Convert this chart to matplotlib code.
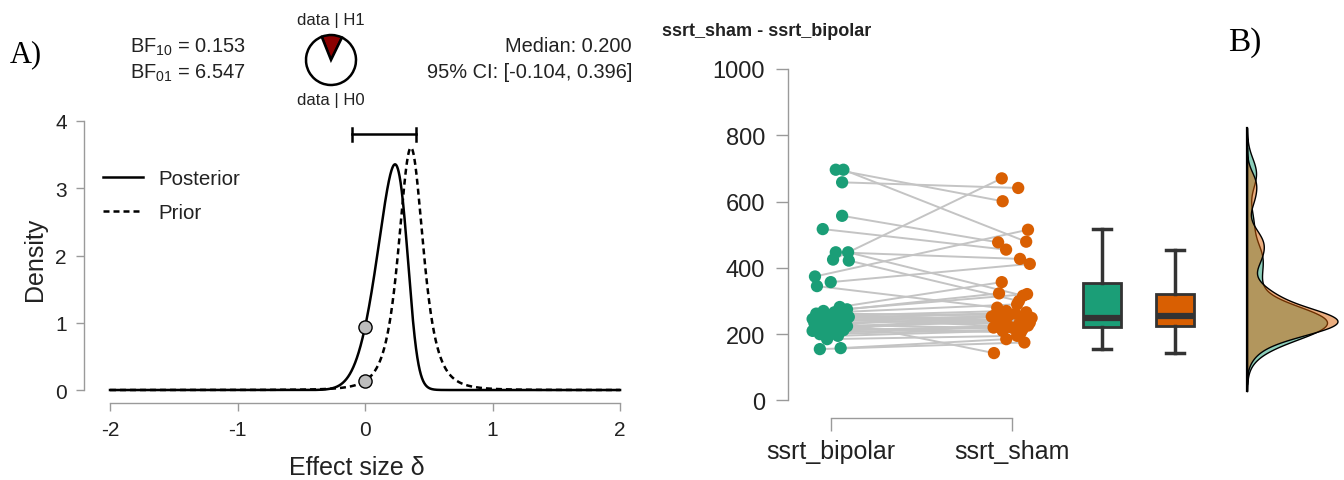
import math
import numpy as np
import matplotlib
matplotlib.use('Agg')
import matplotlib.pyplot as plt

plt.rcParams['font.family'] = ['Liberation Sans', 'DejaVu Sans']
plt.rcParams['mathtext.fontset'] = 'custom'
plt.rcParams['mathtext.rm'] = 'Liberation Sans'
plt.rcParams['mathtext.it'] = 'Liberation Sans:italic'

# ---------------- Panel A data (Bayesian paired t-test) ----------------
bf10 = 0.153
bf01 = 6.547
post_median = 0.200
ci_low, ci_high = -0.104, 0.396
prior_loc, prior_scale, prior_df = 0.36, 0.102, 3
lik_mean, lik_sd = 0.011, 0.145
x_ticks_a = [-2, -1, 0, 1, 2]
y_ticks_a = [0, 1, 2, 3, 4]
legend_labels = ['Posterior', 'Prior']

# ---------------- Panel B data (raincloud, paired) ----------------
conditions = ['ssrt_bipolar', 'ssrt_sham']
ssrt_bipolar = [696, 696, 658, 557, 517, 447, 447, 425, 422, 374, 357, 345,
                282, 275, 270, 266, 262, 258, 255, 252, 249, 247, 246, 244,
                242, 239, 236, 233, 230, 228, 224, 220, 218, 215, 212, 210,
                205, 200, 195, 185, 158, 155]
ssrt_sham = [601, 479, 641, 477, 455, 427, 316, 670, 300, 515, 412, 280,
             357, 323, 321, 290, 258, 240, 270, 235, 262, 224, 266, 253,
             230, 255, 143, 246, 252, 218, 249, 238, 205, 243, 226, 222,
             220, 215, 210, 195, 185, 175]
jitter_bipolar = [0.028, 0.070, 0.063, 0.063, -0.044, 0.028, 0.096, 0.013, 0.100, -0.087, 0.000, -0.076,
                  0.05, 0.09, -0.04, 0.02, -0.08, 0.07, -0.02, 0.10, -0.06, 0.04, -0.10, 0.01,
                  0.08, -0.05, 0.06, -0.09, 0.03, -0.01, 0.09, -0.07, 0.05, -0.03, 0.07, -0.10,
                  0.02, -0.06, 0.04, -0.02, 0.055, -0.06]
jitter_sham = [-0.050, 0.080, 0.036, -0.075, -0.031, 0.046, 0.063, -0.055, 0.040, 0.090, 0.100, -0.080,
               -0.055, -0.07, 0.085, 0.03, -0.09, 0.06, -0.03, 0.10, 0.02, -0.06, 0.08, -0.11,
               0.04, -0.02, -0.098, 0.07, -0.07, 0.01, 0.11, -0.04, 0.05, -0.08, 0.09, -0.01,
               -0.10, 0.06, -0.05, 0.03, -0.03, 0.07]
y_ticks_b = [0, 200, 400, 600, 800, 1000]
title_b = 'ssrt_sham - ssrt_bipolar'

GREEN = '#1b9e77'
ORANGE = '#d95f02'
AX_GRAY = '#9a9a9a'
TXT = '#222222'

W, H = 1344, 481
fig = plt.figure(figsize=(W / 100, H / 100), dpi=100)


def px_box(left, top, right, bottom):
    return [left / W, 1 - bottom / H, (right - left) / W, (bottom - top) / H]


def t_pdf(x, loc, scale, df):
    z = (x - loc) / scale
    c = math.gamma((df + 1) / 2) / (math.sqrt(df * math.pi) * math.gamma(df / 2))
    return c * (1 + z ** 2 / df) ** (-(df + 1) / 2) / scale


# ---------------- Panel A ----------------
axA = fig.add_axes(px_box(84, 115, 630, 404))
xs = np.linspace(-2, 2, 4001)
prior = t_pdf(xs, prior_loc, prior_scale, prior_df)
lik = np.exp(-0.5 * ((xs - lik_mean) / lik_sd) ** 2)
post = lik * prior
post = post / np.trapezoid(post, xs)

axA.plot(xs, post, color='black', lw=1.8, label=legend_labels[0], zorder=3)
axA.plot(xs, prior, color='black', lw=1.8, ls=(0, (2.4, 1.6)), label=legend_labels[1], zorder=3)
post0 = np.interp(0, xs, post)
prior0 = np.interp(0, xs, prior)
axA.scatter([0, 0], [post0, prior0], s=90, facecolor='#bdbdbd', edgecolor='black',
            linewidth=1.0, zorder=5)
bar_y = 3.8
axA.plot([ci_low, ci_high], [bar_y, bar_y], color='black', lw=1.8)
axA.plot([ci_low, ci_low], [bar_y - 0.1, bar_y + 0.1], color='black', lw=1.8)
axA.plot([ci_high, ci_high], [bar_y - 0.1, bar_y + 0.1], color='black', lw=1.8)

axA.set_xlim(-2.204, 2.078)
axA.set_ylim(-0.193, 4.104)
axA.set_xticks(x_ticks_a)
axA.set_yticks(y_ticks_a)
axA.set_xticklabels([str(v) for v in x_ticks_a])
axA.set_yticklabels([str(v) for v in y_ticks_a])
for s in ['top', 'right']:
    axA.spines[s].set_visible(False)
axA.spines['left'].set_bounds(0, 4)
axA.spines['bottom'].set_bounds(-2, 2)
for s in ['left', 'bottom']:
    axA.spines[s].set_color(AX_GRAY)
    axA.spines[s].set_linewidth(1.0)
axA.tick_params(axis='both', colors=AX_GRAY, labelcolor=TXT, length=6, width=1.0,
                labelsize=15, pad=6.5)
axA.set_xlabel('Effect size δ', fontsize=18, color=TXT, labelpad=11)
axA.set_ylabel('Density', fontsize=18, color=TXT, labelpad=6)
axA.legend(loc='upper left', bbox_to_anchor=(0.0348, 0.81), frameon=False,
           fontsize=14.8, handlelength=1.95, handletextpad=0.75, labelspacing=0.75,
           borderpad=0, borderaxespad=0, labelcolor=TXT)

# header texts
fig.text(130 / W, 1 - 47 / H, f'BF$_{{10}}$ = {bf10:.3f}', fontsize=14.4, color=TXT,
         ha='left', va='center')
fig.text(130 / W, 1 - 73 / H, f'BF$_{{01}}$ = {bf01:.3f}', fontsize=14.4, color=TXT,
         ha='left', va='center')
fig.text(632 / W, 1 - 47 / H, f'Median: {post_median:.3f}', fontsize=14.4, color=TXT,
         ha='right', va='center')
fig.text(632 / W, 1 - 73 / H, f'95% CI: [{ci_low:.3f}, {ci_high:.3f}]', fontsize=14.4,
         color=TXT, ha='right', va='center')
fig.text(331 / W, 1 - 21 / H, 'data | H1', fontsize=12, color=TXT, ha='center', va='center')
fig.text(331 / W, 1 - 101 / H, 'data | H0', fontsize=12, color=TXT, ha='center', va='center')

p_h1 = bf10 / (1 + bf10)
axPie = fig.add_axes(px_box(304, 34, 358, 88))
axPie.pie([p_h1, 1 - p_h1], colors=['#8b0000', 'white'], startangle=64,
          wedgeprops=dict(edgecolor='black', linewidth=1.8))
axPie.set_xlim(-1.08, 1.08)
axPie.set_ylim(-1.08, 1.08)
axPie.set_aspect('equal')
axPie.axis('off')

fig.text(10 / W, 1 - 55 / H, 'A)', fontsize=22, family='Liberation Serif', color='black',
         ha='left', va='center')

# ---------------- Panel B ----------------
axB = fig.add_axes(px_box(788, 60, 1344, 419))
bip = np.array(ssrt_bipolar, dtype=float)
sham = np.array(ssrt_sham, dtype=float)
xb = 1 + np.array(jitter_bipolar)
xsh = 2 + np.array(jitter_sham)

for i in range(len(bip)):
    axB.plot([xb[i], xsh[i]], [bip[i], sham[i]], color='#c4c4c4', lw=1.4, zorder=1)
axB.scatter(xb, bip, s=78, color=GREEN, edgecolor='none', zorder=3)
axB.scatter(xsh, sham, s=78, color=ORANGE, edgecolor='none', zorder=3)

bp = axB.boxplot([bip, sham], positions=[2.5, 2.9], widths=0.21, patch_artist=True,
                 showfliers=False, whis=1.5, capwidths=0.1)
for patch, c in zip(bp['boxes'], [GREEN, ORANGE]):
    patch.set_facecolor(c)
    patch.set_edgecolor('#333333')
    patch.set_linewidth(2.0)
for ln in bp['medians']:
    ln.set_color('#333333')
    ln.set_linewidth(4.5)
for ln in bp['whiskers'] + bp['caps']:
    ln.set_color('#333333')
    ln.set_linewidth(2.5)


def kde(vals):
    n = len(vals)
    sd = np.std(vals, ddof=1)
    iqr = np.percentile(vals, 75) - np.percentile(vals, 25)
    bw = 0.9 * min(sd, iqr / 1.34) * n ** (-0.2)
    grid = np.linspace(vals.min() - 3 * bw, vals.max() + 3 * bw, 512)
    dens = np.exp(-0.5 * ((grid[:, None] - vals[None, :]) / bw) ** 2).sum(axis=1)
    dens /= n * bw * math.sqrt(2 * math.pi)
    return grid, dens


gb, db = kde(bip)
gs, ds = kde(sham)
base = 3.30
scale = 0.5 / max(db.max(), ds.max())
axB.fill_betweenx(gb, base, base + db * scale, facecolor=(0.106, 0.62, 0.467, 0.5),
                  edgecolor='black', linewidth=1.0, zorder=2)
axB.fill_betweenx(gs, base, base + ds * scale, facecolor=(0.851, 0.373, 0.008, 0.5),
                  edgecolor='black', linewidth=1.0, zorder=2)
axB.plot([base, base], [min(gb.min(), gs.min()), max(gb.max(), gs.max())], color='black',
         lw=1.6, zorder=4)

axB.set_xlim(0.764, 3.836)
axB.set_ylim(-52.8, 1030)
axB.set_xticks([1, 2])
axB.set_xticklabels(conditions)
axB.set_yticks(y_ticks_b)
axB.set_yticklabels([str(v) for v in y_ticks_b])
for s in ['top', 'right']:
    axB.spines[s].set_visible(False)
axB.spines['left'].set_bounds(0, 1000)
axB.spines['bottom'].set_bounds(1, 2)
for s in ['left', 'bottom']:
    axB.spines[s].set_color(AX_GRAY)
    axB.spines[s].set_linewidth(1.0)
axB.tick_params(axis='y', colors=AX_GRAY, labelcolor=TXT, length=8.5, width=1.0,
                labelsize=17, pad=8)
axB.tick_params(axis='x', colors=AX_GRAY, labelcolor=TXT, length=9, width=1.0,
                labelsize=18, pad=6)

fig.text(662 / W, 1 - 32 / H, title_b, fontsize=13, weight='bold', color=TXT,
         ha='left', va='center')
fig.text(1228 / W, 1 - 43 / H, 'B)', fontsize=24, family='Liberation Serif', color='black',
         ha='left', va='center')

fig.savefig('out.png', dpi=100)
